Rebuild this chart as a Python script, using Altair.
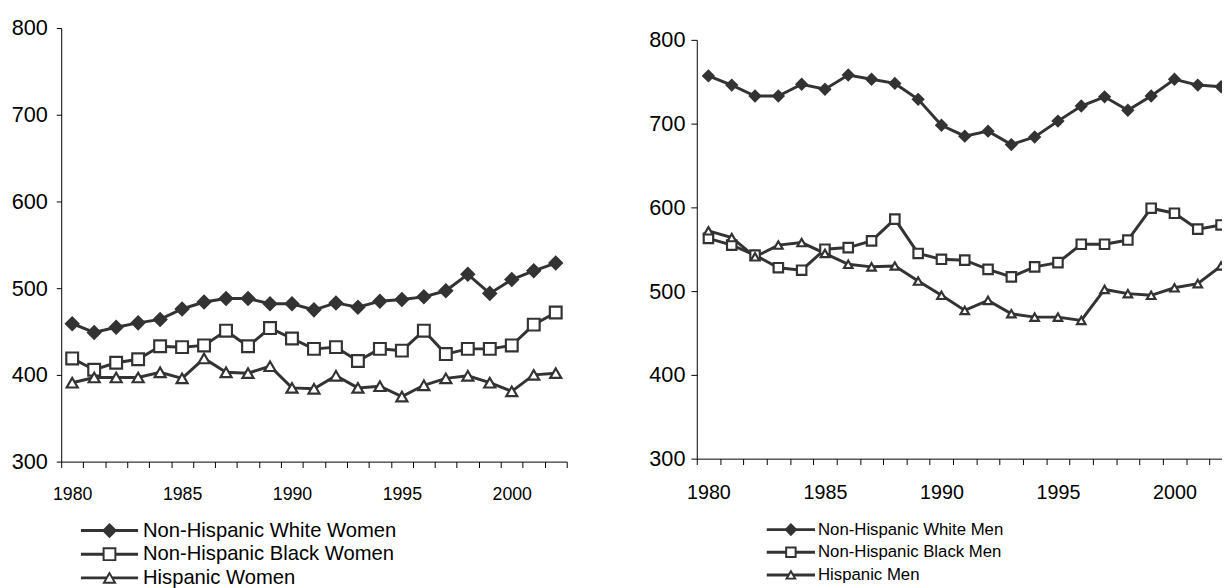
import pandas as pd
import altair as alt

# data
years = list(range(1980, 2003))

women_white = [459, 449, 455, 460, 464, 476, 484, 488, 488, 482, 482, 475, 483, 478, 485, 487, 490, 497, 516, 494, 510, 520, 529]
women_black = [419, 406, 414, 418, 433, 432, 434, 451, 433, 454, 442, 430, 432, 416, 430, 428, 451, 424, 430, 430, 434, 458, 472]
women_hisp = [391, 397, 397, 397, 403, 396, 419, 403, 402, 410, 385, 384, 399, 385, 387, 375, 388, 396, 399, 391, 381, 400, 402]

men_white = [757, 746, 733, 733, 747, 741, 758, 753, 748, 729, 698, 685, 691, 675, 684, 703, 721, 732, 716, 733, 753, 746, 744]
men_black = [563, 555, 543, 528, 525, 550, 552, 560, 586, 545, 538, 537, 526, 517, 529, 534, 556, 556, 561, 599, 593, 574, 579]
men_hisp = [572, 564, 541, 555, 558, 545, 532, 529, 530, 512, 495, 477, 489, 473, 469, 469, 465, 502, 497, 495, 504, 509, 530]

women_names = ["Non-Hispanic White Women", "Non-Hispanic Black Women", "Hispanic Women"]
men_names = ["Non-Hispanic White Men", "Non-Hispanic Black Men", "Hispanic Men"]

y_ticks = [300, 400, 500, 600, 700, 800]
shapes = ["diamond", "square", "triangle-up"]
fills = ["#333333", "white", "white"]
sizes = [160, 75, 90]

INK = "#333333"
FONT = "Liberation Sans, Arial"


def long_table(names, series):
    rows = []
    for name, vals in zip(names, series):
        for yr, v in zip(years, vals):
            rows.append({"Year": yr, "Value": v, "Series": name})
    return pd.DataFrame(rows)


def marker_enc(names):
    return dict(
        shape=alt.Shape("Series:N", scale=alt.Scale(domain=names, range=shapes), legend=None),
        fill=alt.Fill("Series:N", scale=alt.Scale(domain=names, range=fills), legend=None),
        size=alt.Size("Series:N", scale=alt.Scale(domain=names, range=sizes), legend=None),
    )


def plot(df, names, x_end, w, h, fy, fx, ty, py, px, band):
    tick_vals = [1979.5 + i for i in range(24)]
    base = alt.Chart(df).encode(
        x=alt.X("Year:Q", scale=alt.Scale(domain=[1979.5, x_end], nice=False, zero=False),
                axis=alt.Axis(values=tick_vals, title=None, grid=False, tickSize=6,
                              labelExpr="(datum.value - 1979.5) % 5 == 0 ? toString(datum.value + 0.5) : ''",
                              labelOffset=band / 2, labelPadding=px, labelFontSize=fx,
                              labelOverlap=False, labelFlush=False, labelBound=False)),
        y=alt.Y("Value:Q", scale=alt.Scale(domain=[300, 800], nice=False, zero=False),
                axis=alt.Axis(values=y_ticks, title=None, grid=False, tickSize=ty,
                              labelPadding=py, labelFontSize=fy)),
    )
    lines = base.mark_line(color=INK, strokeWidth=3, clip=True).encode(detail="Series:N")
    pts = base.mark_point(filled=True, stroke=INK, strokeWidth=2.2, opacity=1, clip=True).encode(**marker_enc(names))
    return alt.layer(lines, pts).properties(width=w, height=h)


def legend(names, x0, x1, xt, rng, fs):
    leg = alt.Chart(pd.DataFrame({"Series": names, "Row": [0, 1, 2]})).encode(
        y=alt.Y("Row:Q", axis=None, scale=alt.Scale(domain=[0, 2], range=rng, nice=False, zero=False))
    )
    rule = leg.mark_rule(color=INK, strokeWidth=3).encode(x=alt.value(x0), x2=alt.value(x1))
    pts = leg.mark_point(filled=True, stroke=INK, strokeWidth=2, opacity=1).encode(
        x=alt.value((x0 + x1) / 2), **marker_enc(names))
    txt = leg.mark_text(align="left", baseline="middle", font=FONT, fontSize=fs, color="black").encode(
        x=alt.value(xt), text="Series:N")
    return alt.layer(rule, pts, txt).properties(width=300, height=rng[1] + 8)


# 1px spacer: pushes the right panel down so its 800 sits lower than the left one
spacer = alt.Chart(pd.DataFrame({"v": [0]})).mark_rule(opacity=0).encode(
    x=alt.value(0), x2=alt.value(1), y=alt.value(0)).properties(width=1, height=1)

women = long_table(women_names, [women_white, women_black, women_hisp])
men = long_table(men_names, [men_white, men_black, men_hisp])

left = alt.vconcat(
    plot(women, women_names, 2002.5, 513, 440, 22, 18, 5, 9, 18, 22.3),
    legend(women_names, 20, 78, 83, [28, 76], 20.5),
    spacing=0,
)
right = alt.vconcat(
    spacer,
    plot(men, men_names, 2002.04, 533, 425, 22, 20, 6, 6, 18, 23.65),
    legend(men_names, 71, 120, 123, [28, 74], 17),
    spacing=0,
)

chart = alt.hconcat(left, right, spacing=71).properties(
    padding={"left": 3, "top": 5, "right": 0, "bottom": 0}
).configure_view(stroke=None).configure_axis(
    domainColor="black", tickColor="black", labelColor="black", labelFont=FONT,
    domainWidth=1, tickWidth=1
).configure_concat(spacing=0)

chart.save("out.html", embed_options={"renderer": "svg", "actions": False})
